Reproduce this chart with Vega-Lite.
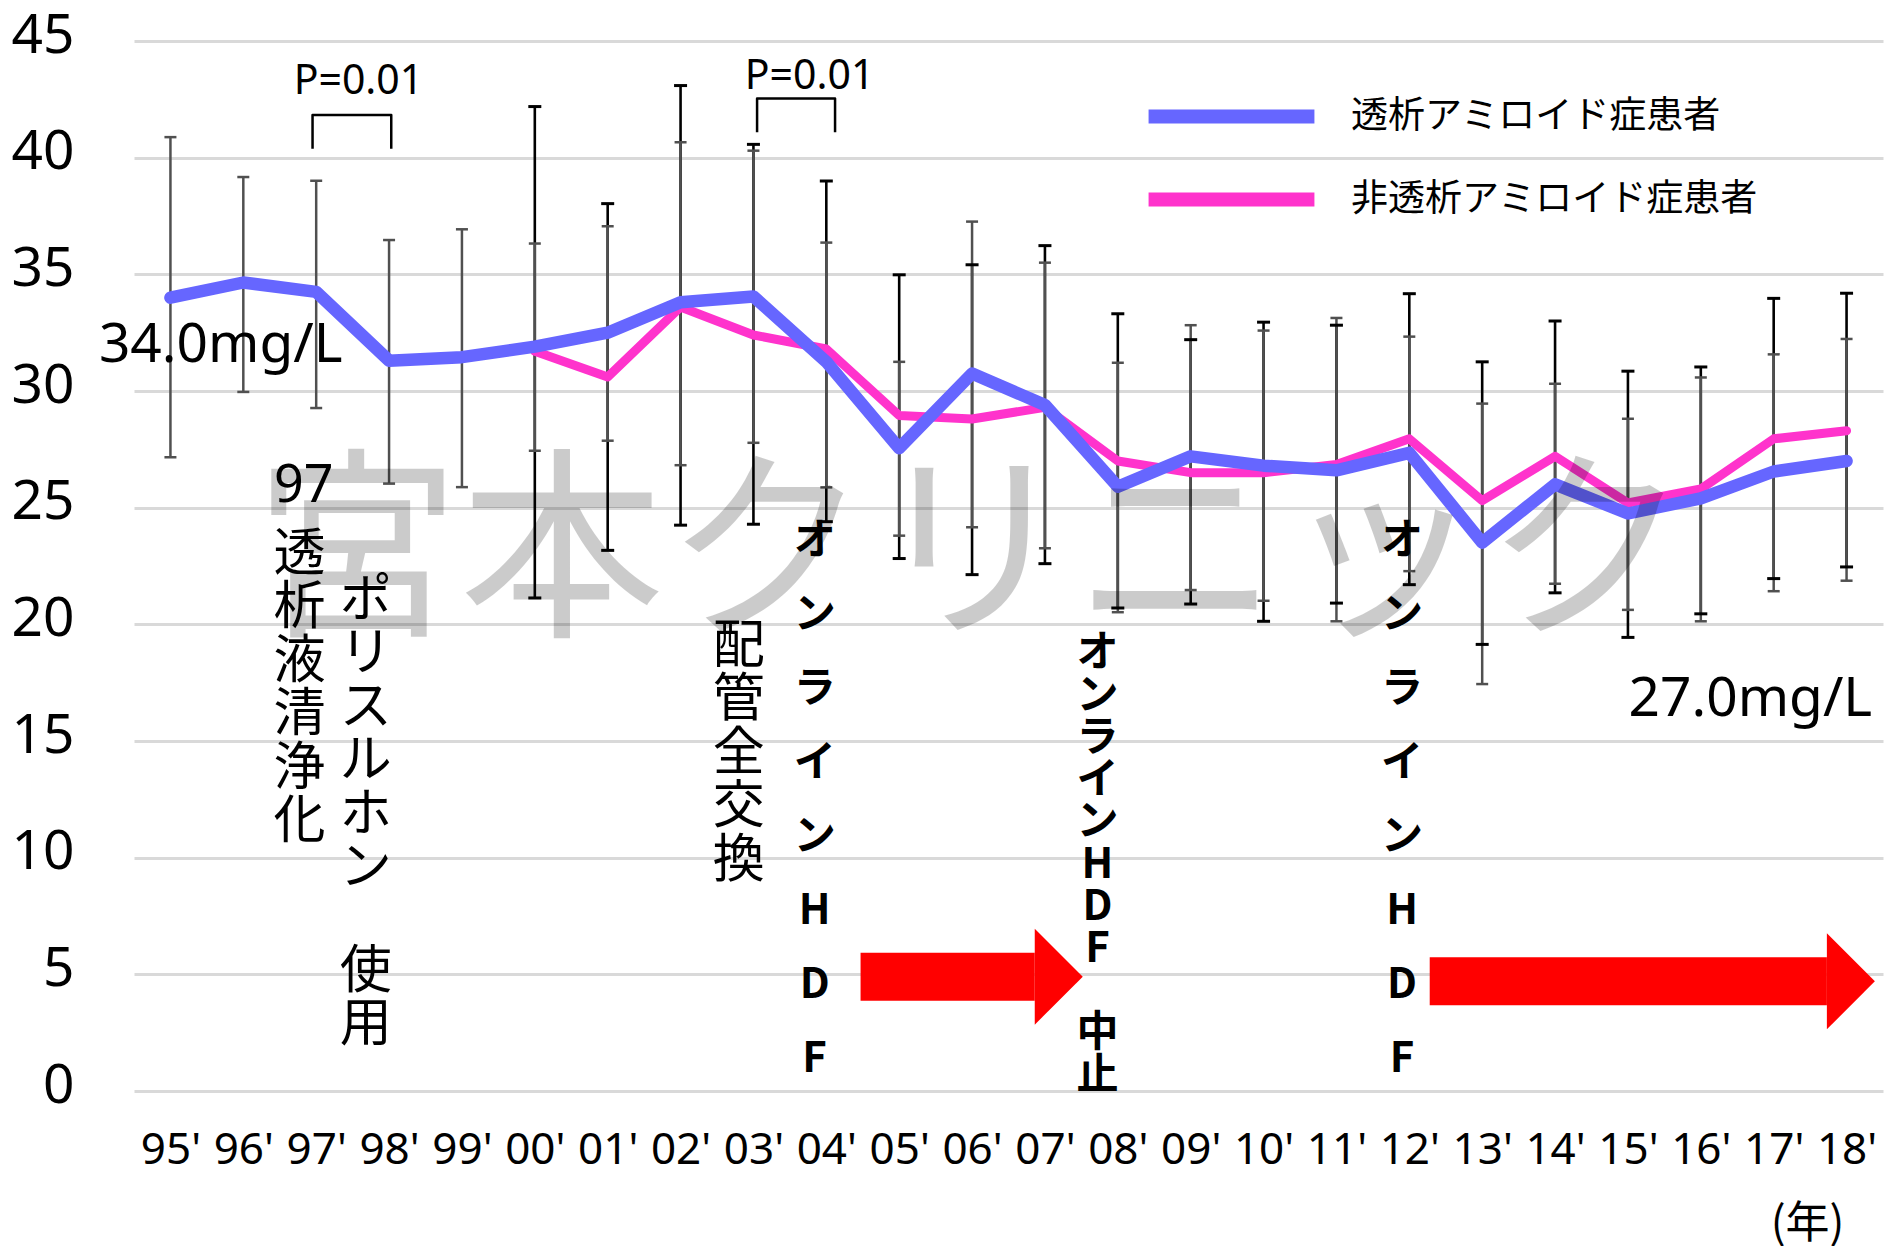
{
  "$schema": "https://vega.github.io/schema/vega-lite/v6.json",
  "width": 1749,
  "height": 1050,
  "autosize": {"type": "none"},
  "padding": {"left": 134, "top": 41, "right": 1, "bottom": 155},
  "background": "white",
  "config": {
    "view": {"stroke": null},
    "font": "Noto Sans, Noto Sans CJK JP",
    "axisY": {"grid": true, "gridColor": "#d9d9d9", "gridWidth": 3, "domain": false, "ticks": false, "tickSize": 0, "labelFontSize": 55, "labelFont": "Noto Sans", "labelColor": "#000", "labelPadding": 60, "labelOffset": -6, "tickCount": 10},
    "axisX": {"grid": false, "domain": false, "ticks": false, "tickSize": 0, "labelFontSize": 44, "labelFont": "Noto Sans", "labelColor": "#000", "labelPadding": 37, "labelOverlap": false, "labelFlush": false}
  },
  "datasets": {
    "stats": [
      {"series": "透析アミロイド症患者", "year": 1995, "value": 34.0, "lo": 27.16, "hi": 40.88},
      {"series": "透析アミロイド症患者", "year": 1996, "value": 34.65, "lo": 29.96, "hi": 39.17},
      {"series": "透析アミロイド症患者", "year": 1997, "value": 34.25, "lo": 29.27, "hi": 39.01},
      {"series": "透析アミロイド症患者", "year": 1998, "value": 31.3, "lo": 26.03, "hi": 36.47},
      {"series": "透析アミロイド症患者", "year": 1999, "value": 31.45, "lo": 25.88, "hi": 36.93},
      {"series": "透析アミロイド症患者", "year": 2000, "value": 31.9, "lo": 27.44, "hi": 36.32},
      {"series": "透析アミロイド症患者", "year": 2001, "value": 32.5, "lo": 27.87, "hi": 37.06},
      {"series": "透析アミロイド症患者", "year": 2002, "value": 33.8, "lo": 26.82, "hi": 40.66},
      {"series": "透析アミロイド症患者", "year": 2003, "value": 34.05, "lo": 27.78, "hi": 40.3},
      {"series": "透析アミロイド症患者", "year": 2004, "value": 31.25, "lo": 25.87, "hi": 36.36},
      {"series": "透析アミロイド症患者", "year": 2005, "value": 27.55, "lo": 23.8, "hi": 31.25},
      {"series": "透析アミロイド症患者", "year": 2006, "value": 30.75, "lo": 24.16, "hi": 37.26},
      {"series": "透析アミロイド症患者", "year": 2007, "value": 29.4, "lo": 23.26, "hi": 35.5},
      {"series": "透析アミロイド症患者", "year": 2008, "value": 25.9, "lo": 20.52, "hi": 31.21},
      {"series": "透析アミロイド症患者", "year": 2009, "value": 27.2, "lo": 21.47, "hi": 32.82},
      {"series": "透析アミロイド症患者", "year": 2010, "value": 26.8, "lo": 21.01, "hi": 32.59},
      {"series": "透析アミロイド症患者", "year": 2011, "value": 26.6, "lo": 20.13, "hi": 33.13},
      {"series": "透析アミロイド症患者", "year": 2012, "value": 27.35, "lo": 22.28, "hi": 32.33},
      {"series": "透析アミロイド症患者", "year": 2013, "value": 23.5, "lo": 17.44, "hi": 29.46},
      {"series": "透析アミロイド症患者", "year": 2014, "value": 26.0, "lo": 21.74, "hi": 30.31},
      {"series": "透析アミロイド症患者", "year": 2015, "value": 24.75, "lo": 20.62, "hi": 28.81},
      {"series": "透析アミロイド症患者", "year": 2016, "value": 25.4, "lo": 20.13, "hi": 30.58},
      {"series": "透析アミロイド症患者", "year": 2017, "value": 26.55, "lo": 21.42, "hi": 31.57},
      {"series": "透析アミロイド症患者", "year": 2018, "value": 27.0, "lo": 21.87, "hi": 32.23},
      {"series": "非透析アミロイド症患者", "year": 2000, "value": 31.7, "lo": 21.13, "hi": 42.19},
      {"series": "非透析アミロイド症患者", "year": 2001, "value": 30.6, "lo": 23.17, "hi": 38.03},
      {"series": "非透析アミロイド症患者", "year": 2002, "value": 33.6, "lo": 24.25, "hi": 43.09},
      {"series": "非透析アミロイド症患者", "year": 2003, "value": 32.4, "lo": 24.29, "hi": 40.57},
      {"series": "非透析アミロイド症患者", "year": 2004, "value": 31.8, "lo": 24.4, "hi": 39.0},
      {"series": "非透析アミロイド症患者", "year": 2005, "value": 28.95, "lo": 22.82, "hi": 34.98},
      {"series": "非透析アミロイド症患者", "year": 2006, "value": 28.8, "lo": 22.13, "hi": 35.41},
      {"series": "非透析アミロイド症患者", "year": 2007, "value": 29.3, "lo": 22.6, "hi": 36.23},
      {"series": "非透析アミロイド症患者", "year": 2008, "value": 27.0, "lo": 20.7, "hi": 33.31},
      {"series": "非透析アミロイド症患者", "year": 2009, "value": 26.5, "lo": 20.87, "hi": 32.2},
      {"series": "非透析アミロイド症患者", "year": 2010, "value": 26.5, "lo": 20.13, "hi": 32.95},
      {"series": "非透析アミロイド症患者", "year": 2011, "value": 26.85, "lo": 20.91, "hi": 32.82},
      {"series": "非透析アミロイド症患者", "year": 2012, "value": 27.95, "lo": 21.7, "hi": 34.17},
      {"series": "非透析アミロイド症患者", "year": 2013, "value": 25.3, "lo": 19.14, "hi": 31.25},
      {"series": "非透析アミロイド症患者", "year": 2014, "value": 27.2, "lo": 21.35, "hi": 33.0},
      {"series": "非透析アミロイド症患者", "year": 2015, "value": 25.2, "lo": 19.44, "hi": 30.85},
      {"series": "非透析アミロイド症患者", "year": 2016, "value": 25.8, "lo": 20.45, "hi": 31.03},
      {"series": "非透析アミロイド症患者", "year": 2017, "value": 27.95, "lo": 21.96, "hi": 33.97},
      {"series": "非透析アミロイド症患者", "year": 2018, "value": 28.3, "lo": 22.46, "hi": 34.19}
    ],
    "brackets": [
      {"b": 1, "i": 0, "year": 1996.95, "value": 40.38},
      {"b": 1, "i": 1, "year": 1996.95, "value": 41.83},
      {"b": 1, "i": 2, "year": 1998.03, "value": 41.83},
      {"b": 1, "i": 3, "year": 1998.03, "value": 40.38},
      {"b": 2, "i": 0, "year": 2003.05, "value": 41.09},
      {"b": 2, "i": 1, "year": 2003.05, "value": 42.54},
      {"b": 2, "i": 2, "year": 2004.12, "value": 42.54},
      {"b": 2, "i": 3, "year": 2004.12, "value": 41.09}
    ],
    "arrows": [
      {"year": 2004.47, "end": 2006.86, "value": 4.9},
      {"year": 2012.28, "end": 2017.73, "value": 4.7}
    ],
    "heads": [
      {"year": 2006.86, "value": 4.9},
      {"year": 2017.73, "value": 4.7}
    ],
    "notes": [
      {"kind": "big", "year": 1995.69, "value": 31.25, "label": "34.0mg/L"},
      {"kind": "big", "year": 2016.68, "value": 16.09, "label": "27.0mg/L"},
      {"kind": "p", "year": 1997.58, "value": 42.74, "label": "P=0.01"},
      {"kind": "p", "year": 2003.77, "value": 42.93, "label": "P=0.01"},
      {"kind": "col", "year": 1996.83, "value": 25.94, "label": "97"},
      {"kind": "col", "year": 1996.77, "value": 22.97, "label": "透\n析\n液\n清\n浄\n化"},
      {"kind": "col", "year": 1997.68, "value": 21.0, "label": "ポ\nリ\nス\nル\nホ\nン"},
      {"kind": "col", "year": 1997.68, "value": 5.1, "label": "使\n用"},
      {"kind": "col", "year": 2002.8, "value": 19.03, "label": "配\n管\n全\n交\n換"},
      {"kind": "bold", "year": 2003.84, "value": 23.56, "label": "オ\nン\nラ\nイ\nン\nH\nD\nF"},
      {"kind": "bold", "year": 2011.9, "value": 23.56, "label": "オ\nン\nラ\nイ\nン\nH\nD\nF"},
      {"kind": "bold2", "year": 2007.72, "value": 18.76, "label": "オ\nン\nラ\nイ\nン\nH\nD\nF"},
      {"kind": "bold2", "year": 2007.72, "value": 2.47, "label": "中\n止"},
      {"kind": "wm", "year": 2006.0, "value": 22.78, "label": "宮本クリニック"}
    ]
  },
  "encoding": {
    "x": {
      "field": "year", "type": "quantitative",
      "scale": {"domain": [1994.5, 2018.5], "nice": false, "zero": false},
      "axis": {
        "values": [1995, 1996, 1997, 1998, 1999, 2000, 2001, 2002, 2003, 2004, 2005, 2006, 2007, 2008, 2009, 2010, 2011, 2012, 2013, 2014, 2015, 2016, 2017, 2018],
        "labelExpr": "pad(toString(datum.value % 100), 2, '0', 'left') + \"'\"",
        "title": "(年)", "titleFont": "Noto Sans CJK JP", "titleFontSize": 44, "titleFontWeight": "normal", "titleColor": "#000",
        "titleAlign": "center", "titleBaseline": "middle", "titleX": 1673, "titleY": 133
      }
    },
    "y": {"field": "value", "type": "quantitative", "scale": {"domain": [0, 45], "nice": false, "zero": false}, "title": null}
  },
  "layer": [
    {
      "data": {"name": "stats"},
      "transform": [{"filter": "datum.series === '非透析アミロイド症患者'"}],
      "mark": {"type": "rule", "color": "#000000", "strokeWidth": 2.6},
      "encoding": {
        "y": {"field": "lo", "type": "quantitative", "scale": {"domain": [0, 45], "nice": false, "zero": false}, "title": null},
        "y2": {"field": "hi"}
      }
    },
    {
      "data": {"name": "stats"},
      "transform": [{"filter": "datum.series === '透析アミロイド症患者'"}],
      "mark": {"type": "rule", "color": "#505050", "strokeWidth": 2.5},
      "encoding": {
        "y": {"field": "lo", "type": "quantitative", "scale": {"domain": [0, 45], "nice": false, "zero": false}, "title": null},
        "y2": {"field": "hi"}
      }
    },
    {
      "data": {"name": "stats"},
      "transform": [{"filter": "datum.series === '非透析アミロイド症患者'"}, {"fold": ["lo", "hi"], "as": ["end", "cap"]}],
      "mark": {"type": "tick", "orient": "horizontal", "color": "#000000", "size": 13, "thickness": 3, "opacity": 1},
      "encoding": {
        "y": {"field": "cap", "type": "quantitative", "scale": {"domain": [0, 45], "nice": false, "zero": false}, "title": null}
      }
    },
    {
      "data": {"name": "stats"},
      "transform": [{"filter": "datum.series === '透析アミロイド症患者'"}, {"fold": ["lo", "hi"], "as": ["end", "cap"]}],
      "mark": {"type": "tick", "orient": "horizontal", "color": "#505050", "size": 12, "thickness": 2.5, "opacity": 1},
      "encoding": {
        "y": {"field": "cap", "type": "quantitative", "scale": {"domain": [0, 45], "nice": false, "zero": false}, "title": null}
      }
    },
    {
      "data": {"name": "stats"},
      "transform": [{"filter": "datum.series === '非透析アミロイド症患者'"}],
      "mark": {"type": "line", "strokeWidth": 9, "strokeCap": "round", "strokeJoin": "round"},
      "encoding": {
        "color": {
          "field": "series", "type": "nominal",
          "scale": {"domain": ["透析アミロイド症患者", "非透析アミロイド症患者"], "range": ["#6666FF", "#FF33CC"]},
          "legend": {"orient": "none", "legendX": 1079, "legendY": 57, "direction": "vertical", "title": null, "symbolType": "M-12,0L12,0", "symbolSize": 191, "symbolStrokeWidth": 14, "symbolOpacity": 1, "labelFont": "Noto Sans CJK JP", "labelFontSize": 37, "labelColor": "#000", "labelOffset": 101, "labelLimit": 800, "rowPadding": 26, "padding": 0}
        }
      }
    },
    {
      "data": {"name": "stats"},
      "transform": [{"filter": "datum.series === '透析アミロイド症患者'"}],
      "mark": {"type": "line", "strokeWidth": 12.5, "strokeCap": "round", "strokeJoin": "round"},
      "encoding": {
        "color": {
          "field": "series", "type": "nominal",
          "scale": {"domain": ["透析アミロイド症患者", "非透析アミロイド症患者"], "range": ["#6666FF", "#FF33CC"]},
          "legend": {"orient": "none", "legendX": 1079, "legendY": 57, "direction": "vertical", "title": null, "symbolType": "M-12,0L12,0", "symbolSize": 191, "symbolStrokeWidth": 14, "symbolOpacity": 1, "labelFont": "Noto Sans CJK JP", "labelFontSize": 37, "labelColor": "#000", "labelOffset": 101, "labelLimit": 800, "rowPadding": 26, "padding": 0}
        }
      }
    },
    {
      "data": {"name": "brackets"},
      "mark": {"type": "line", "color": "#000000", "strokeWidth": 2.5, "strokeJoin": "round"},
      "encoding": {
        "detail": {"field": "b", "type": "nominal"},
        "order": {"field": "i", "type": "quantitative"}
      }
    },
    {
      "data": {"name": "arrows"},
      "mark": {"type": "rule", "color": "#FF0000", "strokeWidth": 48, "strokeCap": "butt"},
      "encoding": {
        "x2": {"field": "end"}
      }
    },
    {
      "data": {"name": "heads"},
      "mark": {"type": "point", "shape": "M0,-1L1,0L0,1Z", "size": 9216, "filled": true, "color": "#FF0000", "opacity": 1, "strokeWidth": 0}
    },
    {
      "data": {"name": "notes"},
      "transform": [{"filter": "datum.kind === 'wm'"}],
      "mark": {"type": "text", "font": "Noto Sans CJK JP", "fontSize": 205, "color": "#000000", "opacity": 0.2, "align": "center", "baseline": "middle"},
      "encoding": {"text": {"field": "label"}}
    },
    {
      "data": {"name": "notes"},
      "transform": [{"filter": "datum.kind === 'big'"}],
      "mark": {"type": "text", "font": "Noto Sans, Noto Sans CJK JP", "fontSize": 55, "color": "#000000", "align": "center", "baseline": "alphabetic"},
      "encoding": {"text": {"field": "label"}}
    },
    {
      "data": {"name": "notes"},
      "transform": [{"filter": "datum.kind === 'p'"}],
      "mark": {"type": "text", "font": "Noto Sans", "fontSize": 41, "color": "#000000", "align": "center", "baseline": "alphabetic"},
      "encoding": {"text": {"field": "label"}}
    },
    {
      "data": {"name": "notes"},
      "transform": [{"filter": "datum.kind === 'col'"}],
      "mark": {"type": "text", "font": "Noto Sans, Noto Sans CJK JP", "fontSize": 52, "color": "#000000", "align": "center", "baseline": "middle", "lineBreak": "\n", "lineHeight": 53.4},
      "encoding": {"text": {"field": "label"}}
    },
    {
      "data": {"name": "notes"},
      "transform": [{"filter": "datum.kind === 'bold'"}],
      "mark": {"type": "text", "font": "Noto Sans CJK JP", "fontSize": 42, "fontWeight": "bold", "color": "#000000", "align": "center", "baseline": "middle", "lineBreak": "\n", "lineHeight": 74},
      "encoding": {"text": {"field": "label"}}
    },
    {
      "data": {"name": "notes"},
      "transform": [{"filter": "datum.kind === 'bold2'"}],
      "mark": {"type": "text", "font": "Noto Sans CJK JP", "fontSize": 42, "fontWeight": "bold", "color": "#000000", "align": "center", "baseline": "middle", "lineBreak": "\n", "lineHeight": 42.3},
      "encoding": {"text": {"field": "label"}}
    }
  ]
}
